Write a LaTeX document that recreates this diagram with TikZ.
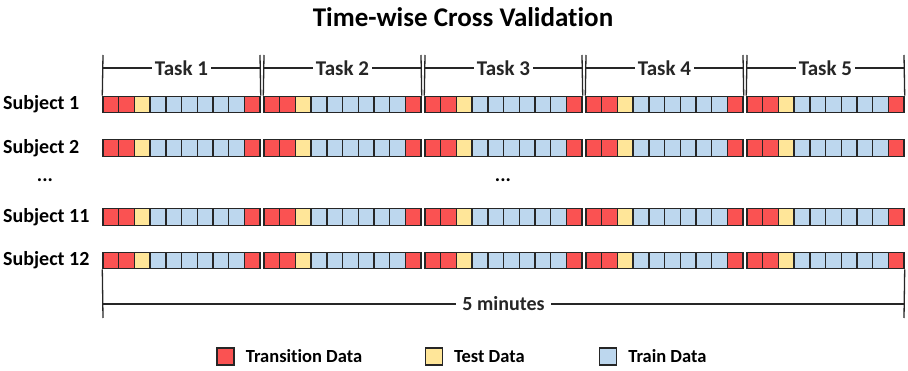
\documentclass[tikz,border=0pt]{standalone}
\usepackage{fontspec}
\setmainfont{Carlito}[Ligatures=NoCommon]
\usetikzlibrary{positioning}

\definecolor{transred}{RGB}{250,82,82}
\definecolor{testyellow}{RGB}{255,230,153}
\definecolor{trainblue}{RGB}{189,215,238}
\definecolor{edgegray}{RGB}{38,38,38}

\tikzset{
  cell/.style={draw=edgegray, line width=1.4pt, inner sep=0pt,
    minimum width=15.7pt, minimum height=16.5pt},
  legbox/.style={draw=edgegray, line width=1.2pt, inner sep=0pt, minimum size=17pt},
  lbl/.style={font=\fontsize{20}{24}\selectfont\bfseries, inner sep=2pt},
  leglbl/.style={font=\fontsize{18.5}{22}\selectfont\bfseries, inner sep=2pt},
  bracket/.style={edgegray, line width=1.3pt}
}

\begin{document}
\begin{tikzpicture}[x=1pt,y=-1pt]
\useasboundingbox (0,0) rectangle (908,371);

% Title
\node[font=\fontsize{27}{32}\selectfont\bfseries] (title) at (463,17) {Time-wise Cross Validation};

% Data blocks: 4 subjects, 5 tasks, 10 cells each
\foreach \s/\y in {1/104.5, 2/148, 11/217, 12/260.5}{
  \node[lbl, anchor=west] (subj\s) at (1,\y) {Subject \s};
  \foreach \t in {1,...,5}{
    \foreach \c/\col in {1/transred,2/transred,3/testyellow,4/trainblue,5/trainblue,
                         6/trainblue,7/trainblue,8/trainblue,9/trainblue,10/transred}{
      \pgfmathsetmacro\xc{103+(\t-1)*161+(\c-0.5)*15.7}
      \node[cell, fill=\col] (s\s-t\t-c\c) at (\xc,\y) {};
    }
  }
}

% skipped subjects
\node[lbl] (dotsl) at (45,180) {...};
\node[lbl] (dotsm) at (503,180) {...};

% Task brackets on top
\foreach \t in {1,...,5}{
  \pgfmathsetmacro\xl{103+(\t-1)*161}
  \pgfmathsetmacro\xr{\xl+157}
  \coordinate (tl\t) at (\xl,55);
  \coordinate (tr\t) at (\xr,55);
  \draw[bracket] (s1-t\t-c1.north west) -- (tl\t);
  \draw[bracket] (s1-t\t-c10.north east) -- (tr\t);
  \draw[bracket] (\xl,68) -- (\xr,68) node[lbl, font=\fontsize{21}{25}\selectfont\bfseries,
    midway, fill=white, inner sep=3pt] (task\t) {Task \t};
}

% Time bracket below
\coordinate (bl) at (103,318);
\coordinate (br) at (904,318);
\draw[bracket] (s12-t1-c1.south west) -- (bl);
\draw[bracket] (s12-t5-c10.south east) -- (br);
\draw[bracket] (103,304) -- (904,304) node[lbl, midway, fill=white, inner sep=6pt] (time) {5 minutes};

% Legend
\node[legbox, fill=transred] (legtrans) at (225.5,356.5) {};
\node[leglbl, right=9pt of legtrans] (legtranstext) {Transition Data};
\node[legbox, fill=testyellow] (legtest) at (433.7,356.5) {};
\node[leglbl, right=9pt of legtest] (legtesttext) {Test Data};
\node[legbox, fill=trainblue] (legtrain) at (608,356.5) {};
\node[leglbl, right=9pt of legtrain] (legtraintext) {Train Data};

\end{tikzpicture}
\end{document}
